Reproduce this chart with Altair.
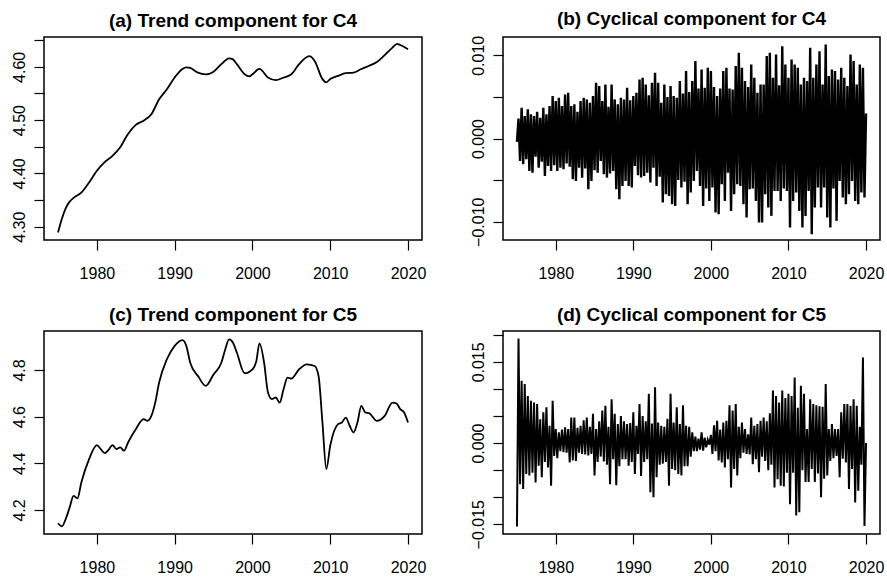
import altair as alt
import pandas as pd

# ---------------- data ----------------
c4_trend_t = [1975, 1975.5, 1976, 1976.5, 1977, 1978, 1979, 1980, 1981, 1982, 1983, 1984,
              1985, 1986, 1987, 1988, 1989, 1990, 1991, 1991.5, 1992, 1993, 1994, 1995,
              1996, 1997, 1997.5, 1998, 1999, 1999.6, 2000, 2000.9, 2002, 2003, 2004,
              2005, 2006, 2007.3, 2008, 2009, 2009.5, 2010, 2011, 2012, 2013, 2014,
              2015, 2016, 2017, 2018, 2018.6, 2019, 2020]
c4_trend_v = [4.289, 4.315, 4.335, 4.347, 4.354, 4.364, 4.383, 4.405, 4.421, 4.433, 4.449, 4.474,
              4.491, 4.499, 4.511, 4.539, 4.558, 4.580, 4.596, 4.599, 4.598, 4.589, 4.586, 4.591,
              4.605, 4.616, 4.614, 4.605, 4.586, 4.582, 4.586, 4.596, 4.580, 4.575, 4.580,
              4.586, 4.605, 4.620, 4.611, 4.577, 4.571, 4.577, 4.583, 4.588, 4.589, 4.596,
              4.602, 4.609, 4.622, 4.636, 4.643, 4.641, 4.633]

c5_trend_t = [1975, 1975.5, 1976, 1976.5, 1977, 1977.5, 1978, 1979, 1980, 1980.5, 1981, 1981.5,
              1982, 1982.5, 1983, 1983.5, 1984, 1985, 1986, 1986.5, 1987, 1987.5, 1988, 1989,
              1990, 1991, 1991.5, 1992, 1993, 1994, 1995, 1996, 1996.5, 1997, 1997.5, 1998,
              1999, 2000, 2000.5, 2000.9, 2001.5, 2002, 2002.5, 2003, 2003.5, 2004, 2004.5,
              2005, 2006, 2007, 2008, 2008.5, 2009, 2009.5, 2010, 2011, 2011.5, 2012, 2012.5,
              2013, 2013.5, 2014, 2014.5, 2015, 2016, 2017, 2018, 2018.5, 2019, 2019.5, 2020]
c5_trend_v = [4.143, 4.130, 4.162, 4.211, 4.260, 4.250, 4.318, 4.418, 4.478, 4.461, 4.444, 4.458,
              4.478, 4.461, 4.468, 4.454, 4.489, 4.546, 4.589, 4.582, 4.603, 4.660, 4.746, 4.846,
              4.903, 4.928, 4.903, 4.831, 4.774, 4.732, 4.781, 4.831, 4.888, 4.931, 4.917, 4.874,
              4.786, 4.803, 4.838, 4.914, 4.831, 4.703, 4.675, 4.682, 4.660, 4.717, 4.767,
              4.763, 4.803, 4.824, 4.817, 4.774, 4.575, 4.375, 4.475, 4.568, 4.575, 4.596, 4.561,
              4.532, 4.575, 4.646, 4.618, 4.615, 4.582, 4.603, 4.660, 4.657, 4.632, 4.618, 4.575]

# cyclical components, 5 readings per year from 1975.0
c4_cycle = [
    -0.0004, 0.0024, -0.0027, 0.0037, -0.0031,   # 1975
    0.0027, -0.0025, 0.0035, -0.0039, 0.0029,    # 1976
    -0.0041, 0.0027, -0.0022, 0.0032, -0.0035,   # 1977
    0.0025, -0.0028, 0.0037, -0.0045, 0.0029,    # 1978
    -0.0033, 0.0039, -0.0039, 0.0051, -0.0032,   # 1979
    0.0045, -0.0039, 0.0049, -0.0035, 0.0039,    # 1980
    -0.0037, 0.0053, -0.0030, 0.0055, -0.0034,   # 1981
    0.0039, -0.0049, 0.0041, -0.0051, 0.0032,    # 1982
    -0.0035, 0.0045, -0.0047, 0.0049, -0.0036,   # 1983
    0.0047, -0.0061, 0.0043, -0.0051, 0.0051,    # 1984
    -0.0038, 0.0067, -0.0041, 0.0063, -0.0027,   # 1985
    0.0045, -0.0043, 0.0065, -0.0047, 0.0038,    # 1986
    -0.0042, 0.0065, -0.0039, 0.0047, -0.0061,   # 1987
    0.0041, -0.0073, 0.0049, -0.0057, 0.0047,    # 1988
    -0.0051, 0.0061, -0.0057, 0.0046, -0.0059,   # 1989
    0.0051, -0.0033, 0.0055, -0.0044, 0.0071,    # 1990
    -0.0047, 0.0073, -0.0045, 0.0065, -0.0041,   # 1991
    0.0052, -0.0053, 0.0067, -0.0035, 0.0079,    # 1992
    -0.0057, 0.0067, -0.0046, 0.0043, -0.0077,   # 1993
    0.0065, -0.0067, 0.0050, -0.0069, 0.0063,    # 1994
    -0.0079, 0.0051, -0.0081, 0.0049, -0.0050,   # 1995
    0.0069, -0.0059, 0.0054, -0.0052, 0.0081,    # 1996
    -0.0079, 0.0056, -0.0065, 0.0069, -0.0051,   # 1997
    0.0093, -0.0039, 0.0060, -0.0057, 0.0083,    # 1998
    -0.0081, 0.0061, -0.0060, 0.0085, -0.0075,   # 1999
    0.0081, -0.0059, 0.0062, -0.0089, 0.0051,    # 2000
    -0.0091, 0.0060, -0.0055, 0.0081, -0.0075,   # 2001
    0.0085, -0.0041, 0.0060, -0.0087, 0.0059,    # 2002
    -0.0067, 0.0087, -0.0055, 0.0103, -0.0057,   # 2003
    0.0085, -0.0079, 0.0069, -0.0095, 0.0062,    # 2004
    -0.0061, 0.0089, -0.0060, 0.0073, -0.0075,   # 2005
    0.0055, -0.0101, 0.0065, -0.0101, 0.0065,    # 2006
    -0.0067, 0.0099, -0.0083, 0.0103, -0.0093,   # 2007
    0.0073, -0.0063, 0.0101, -0.0063, 0.0064,    # 2008
    -0.0075, 0.0111, -0.0060, 0.0089, -0.0063,   # 2009
    0.0073, -0.0107, 0.0095, -0.0075, 0.0089,    # 2010
    -0.0065, 0.0085, -0.0087, 0.0065, -0.0107,   # 2011
    0.0073, -0.0093, 0.0069, -0.0063, 0.0109,    # 2012
    -0.0115, 0.0073, -0.0083, 0.0089, -0.0059,   # 2013
    0.0105, -0.0083, 0.0065, -0.0059, 0.0113,    # 2014
    -0.0095, 0.0075, -0.0107, 0.0083, -0.0060,   # 2015
    0.0081, -0.0099, 0.0071, -0.0051, 0.0085,    # 2016
    -0.0071, 0.0073, -0.0079, 0.0063, -0.0067,   # 2017
    0.0101, -0.0051, 0.0093, -0.0075, 0.0065,    # 2018
    -0.0079, 0.0089, -0.0065, 0.0085, -0.0071,   # 2019
    0.0030,                                      # 2020
]

c5_cycle = [
    -0.0154, 0.0193, -0.0076, 0.0115, -0.0085,   # 1975
    0.0109, -0.0057, 0.0087, -0.0060, 0.0078,    # 1976
    -0.0055, 0.0075, -0.0073, 0.0072, -0.0042,   # 1977
    0.0044, -0.0063, 0.0057, -0.0035, 0.0066,    # 1978
    -0.0045, 0.0032, -0.0079, 0.0078, -0.0024,   # 1979
    0.0026, -0.0028, 0.0020, -0.0015, 0.0025,    # 1980
    -0.0017, 0.0029, -0.0018, 0.0026, -0.0036,   # 1981
    0.0047, -0.0032, 0.0047, -0.0033, 0.0028,    # 1982
    -0.0018, 0.0032, -0.0020, 0.0042, -0.0021,   # 1983
    0.0047, -0.0023, 0.0030, -0.0020, 0.0054,    # 1984
    -0.0060, 0.0026, -0.0035, 0.0040, -0.0025,   # 1985
    0.0060, -0.0034, 0.0069, -0.0040, 0.0030,    # 1986
    -0.0076, 0.0081, -0.0030, 0.0054, -0.0078,   # 1987
    0.0035, -0.0043, 0.0050, -0.0030, 0.0040,    # 1988
    -0.0030, 0.0035, -0.0042, 0.0037, -0.0035,   # 1989
    0.0057, -0.0057, 0.0032, -0.0020, 0.0072,    # 1990
    -0.0061, 0.0050, -0.0035, 0.0040, -0.0030,   # 1991
    0.0091, -0.0091, 0.0036, -0.0100, 0.0103,    # 1992
    -0.0063, 0.0038, -0.0040, 0.0032, -0.0038,   # 1993
    0.0030, -0.0035, 0.0045, -0.0079, 0.0091,    # 1994
    -0.0048, 0.0038, -0.0050, 0.0066, -0.0057,   # 1995
    0.0035, -0.0060, 0.0070, -0.0043, 0.0032,    # 1996
    -0.0043, 0.0030, -0.0025, 0.0020, -0.0015,   # 1997
    0.0012, -0.0015, 0.0008, -0.0012, 0.0020,    # 1998
    -0.0014, 0.0010, -0.0008, 0.0006, -0.0003,   # 1999
    0.0015, -0.0020, 0.0033, -0.0015, 0.0041,    # 2000
    -0.0032, 0.0025, -0.0036, 0.0038, -0.0045,   # 2001
    0.0041, -0.0030, 0.0070, -0.0082, 0.0060,    # 2002
    -0.0048, 0.0072, -0.0060, 0.0030, -0.0028,   # 2003
    0.0038, -0.0018, 0.0026, -0.0020, 0.0016,    # 2004
    -0.0021, 0.0047, -0.0039, 0.0032, -0.0030,   # 2005
    0.0035, -0.0054, 0.0041, -0.0025, 0.0047,    # 2006
    -0.0033, 0.0040, -0.0050, 0.0055, -0.0040,   # 2007
    0.0097, -0.0082, 0.0087, -0.0067, 0.0075,    # 2008
    -0.0079, 0.0097, -0.0080, 0.0083, -0.0055,   # 2009
    0.0091, -0.0113, 0.0087, -0.0055, 0.0121,    # 2010
    -0.0134, 0.0065, -0.0128, 0.0106, -0.0050,   # 2011
    0.0091, -0.0072, 0.0026, -0.0072, 0.0081,    # 2012
    -0.0048, 0.0072, -0.0072, 0.0070, -0.0056,   # 2013
    0.0068, -0.0100, 0.0067, -0.0066, 0.0109,    # 2014
    -0.0060, 0.0026, -0.0033, 0.0035, -0.0028,   # 2015
    0.0026, -0.0024, 0.0026, -0.0063, 0.0057,    # 2016
    -0.0029, 0.0072, -0.0036, 0.0072, -0.0085,   # 2017
    0.0069, -0.0048, 0.0081, -0.0110, 0.0069,    # 2018
    -0.0088, 0.0030, -0.0040, 0.0158, -0.0153,   # 2019
    0.0000,                                      # 2020
]

cycle_t = [round(1975 + 0.2 * i, 1) for i in range(len(c4_cycle))]

x_ticks = [1980, 1990, 2000, 2010, 2020]
FONT = "Liberation Sans"
PH = 203


def label_expr(labels, fmt):
    cond = " || ".join(f"abs(datum.value - ({v})) < 1e-9" for v in labels)
    return f"({cond}) ? format(datum.value, '{fmt}') : ''"


def panel(t, v, title, ydom, yticks, ylabels, fmt, smooth, width, lw):
    df = pd.DataFrame({"t": t, "v": v})
    mark = alt.Chart(df).mark_line(
        color="black", strokeWidth=lw,
        interpolate="monotone" if smooth else "linear", clip=True
    )
    return mark.encode(
        x=alt.X("t:Q", title=None,
                scale=alt.Scale(domain=[1973.2, 2021.8], nice=False, zero=False),
                axis=alt.Axis(values=x_ticks, format="d", labelPadding=15,
                              labelFlush=False, labelOverlap=False)),
        y=alt.Y("v:Q", title=None,
                scale=alt.Scale(domain=ydom, nice=False, zero=False),
                axis=alt.Axis(values=yticks, labelExpr=label_expr(ylabels, fmt),
                              labelAngle=-90, labelAlign="center",
                              labelBaseline="alphabetic", labelPadding=10,
                              labelFlush=False, labelOverlap=False)),
    ).properties(
        width=width, height=PH,
        title=alt.TitleParams(title, font=FONT, fontSize=19, fontWeight="bold",
                              color="black", anchor="middle", baseline="alphabetic",
                              offset=-9),
    )


pa = panel(c4_trend_t, c4_trend_v, "(a) Trend component for C4", [4.275, 4.656],
           [4.30, 4.35, 4.40, 4.45, 4.50, 4.55, 4.60, 4.65], [4.3, 4.4, 4.5, 4.6],
           ".2f", True, 378, 1.8)
pb = panel(cycle_t, c4_cycle, "(b) Cyclical component for C4", [-0.0122, 0.0122],
           [-0.010, -0.005, 0.0, 0.005, 0.010], [-0.01, 0.0, 0.01], ".3f", False, 377, 2.4)
pc = panel(c5_trend_t, c5_trend_v, "(c) Trend component for C5", [4.097, 4.967],
           [4.2, 4.4, 4.6, 4.8], [4.2, 4.4, 4.6, 4.8], ".1f", True, 378, 1.8)
pd_ = panel(cycle_t, c5_cycle, "(d) Cyclical component for C5", [-0.0168, 0.0207],
            [-0.015, -0.010, -0.005, 0.0, 0.005, 0.010, 0.015, 0.020],
            [-0.015, 0.0, 0.015], ".3f", False, 377, 2.0)

chart = alt.concat(
    pa, pb, pc, pd_, columns=2, spacing={"row": 91, "column": 81}, bounds="flush"
).properties(
    padding={"left": 10, "top": 9, "right": 0, "bottom": 0},
    background="white",
).configure_view(
    stroke="black", strokeWidth=1.5
).configure_axis(
    grid=False, domain=False, tickColor="black", tickSize=10, tickWidth=1.2,
    labelFont=FONT, labelFontSize=16, labelColor="black",
)

chart.save("out.html", embed_options={"renderer": "svg", "actions": False})
